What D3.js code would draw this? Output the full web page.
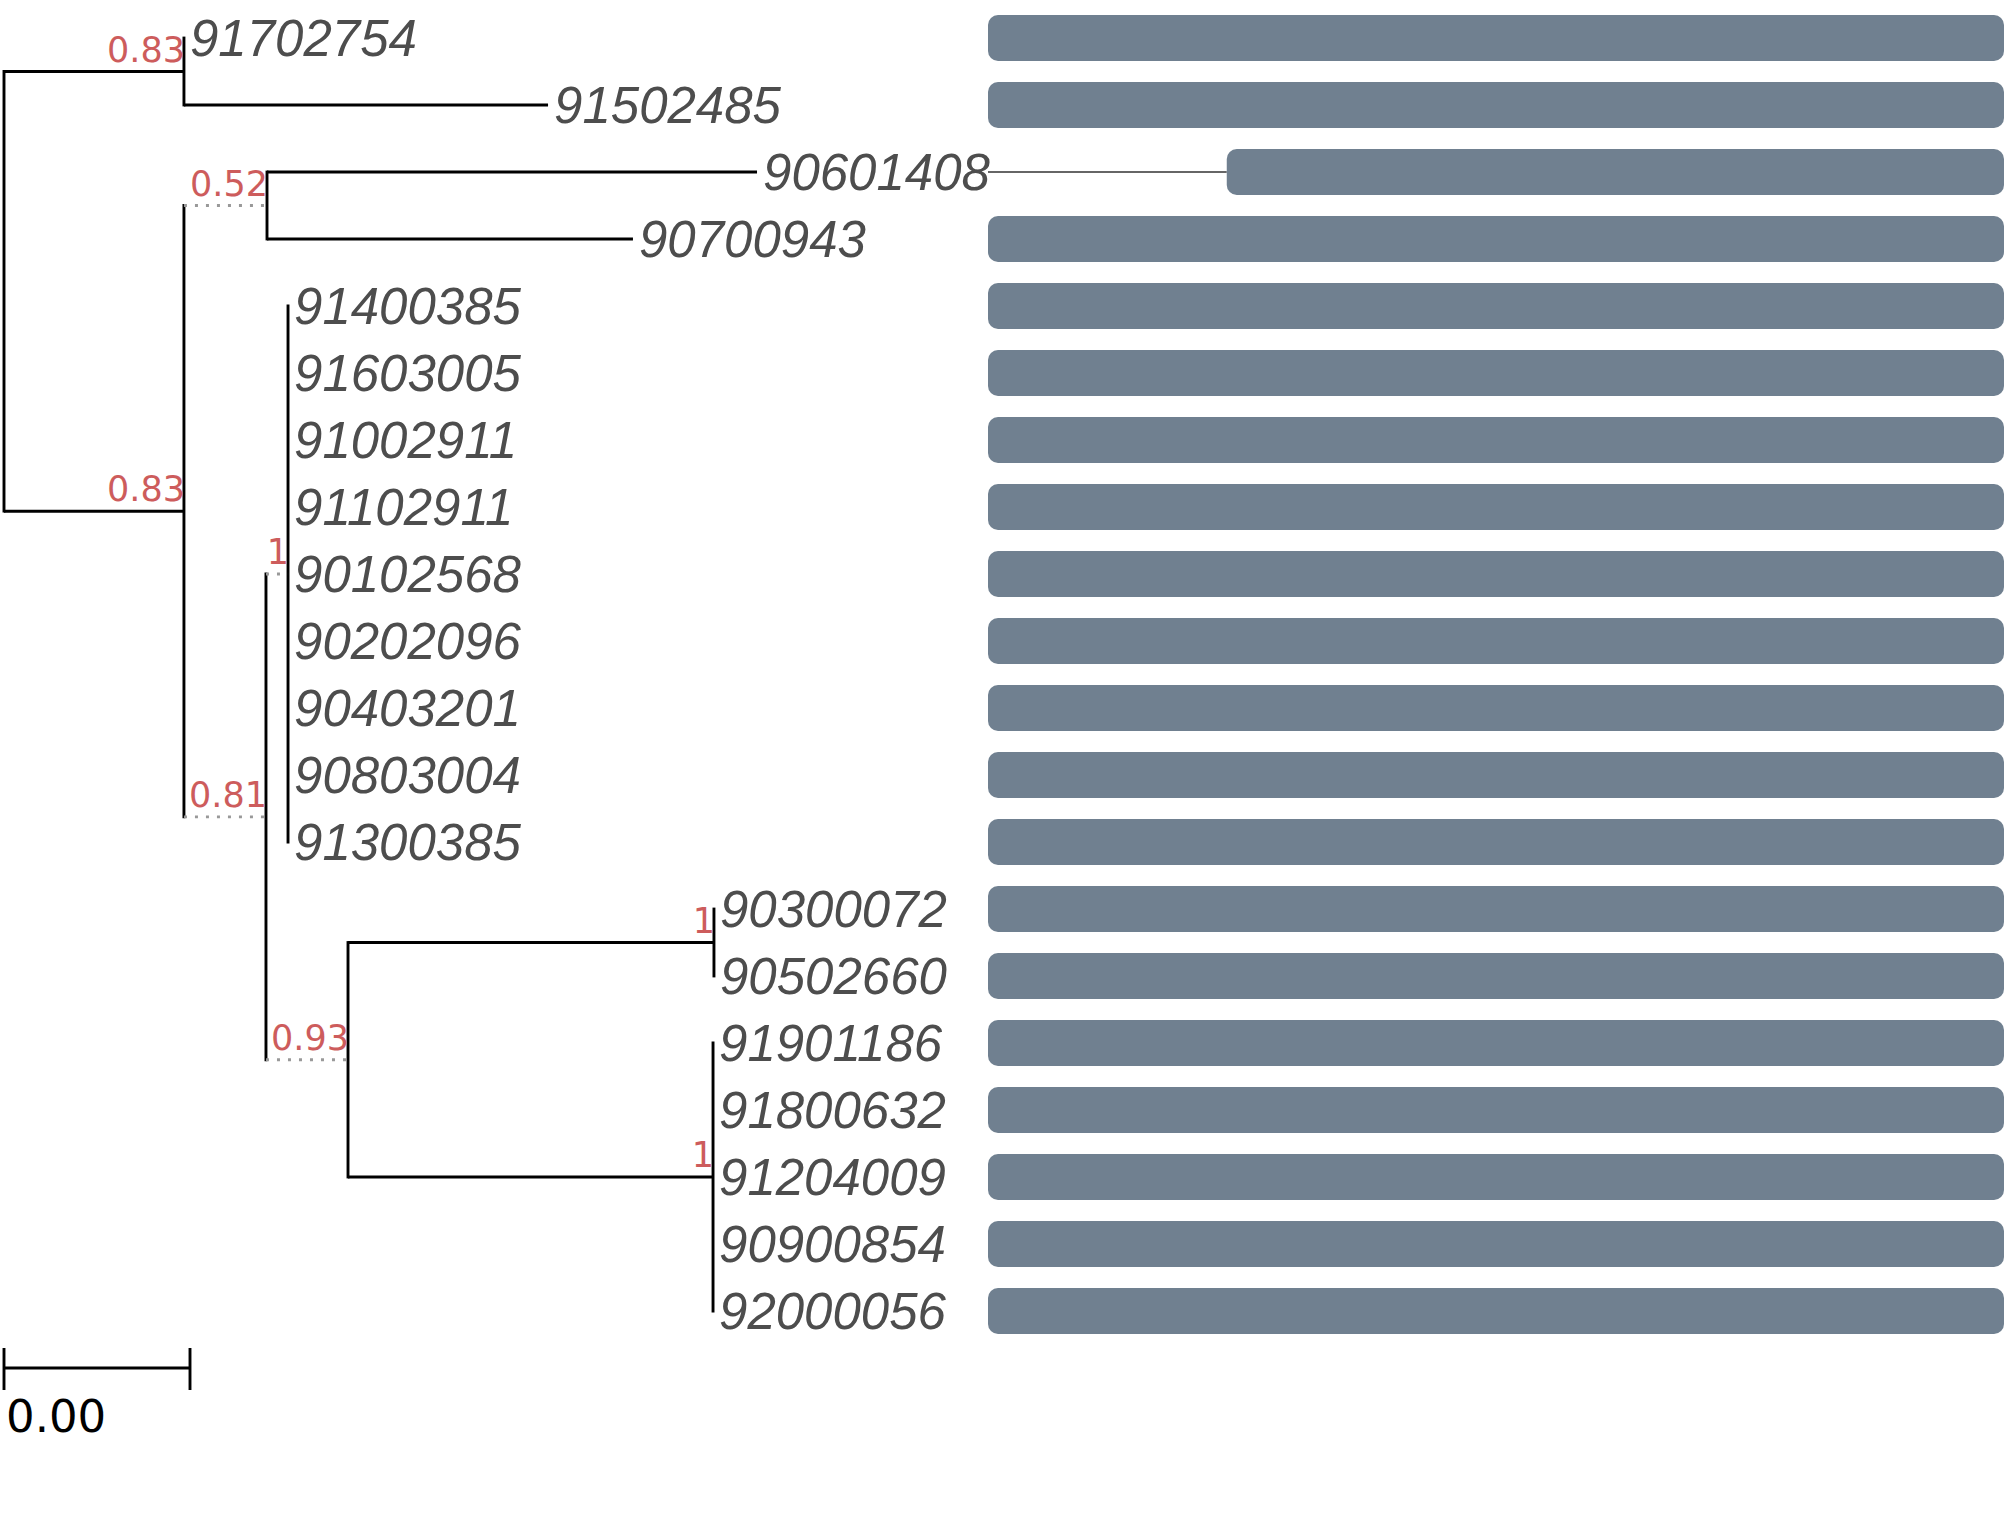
<!DOCTYPE html>
<html>
<head>
<meta charset="utf-8">
<script src="https://cdn.jsdelivr.net/npm/d3@7"></script>
<style>
  html, body { margin: 0; padding: 0; background: #fff; }
  svg { display: block; }
</style>
</head>
<body>
<script>
// tips, top to bottom
const tipLabels = ["91702754", "91502485", "90601408", "90700943", "91400385", "91603005",
  "91002911", "91102911", "90102568", "90202096", "90403201", "90803004", "91300385",
  "90300072", "90502660", "91901186", "91800632", "91204009", "90900854", "92000056"];

// tree as a parent table
const nodeIds = ["root", "A", "91702754", "91502485", "B", "C", "90601408", "90700943",
  "D", "E", "91400385", "91603005", "91002911", "91102911", "90102568", "90202096",
  "90403201", "90803004", "91300385", "F", "G", "90300072", "90502660", "H",
  "91901186", "91800632", "91204009", "90900854", "92000056"];
const parentIds = [null, "root", "A", "A", "root", "B", "C", "C",
  "B", "D", "E", "E", "E", "E", "E", "E",
  "E", "E", "E", "D", "F", "G", "G", "F",
  "H", "H", "H", "H", "H"];
const branchLen = [0, 0.001935, 0, 0.003915, 0.001935, 0.000893, 0.005269, 0.003935,
  0.000882, 0.000237, 0, 0, 0, 0, 0, 0,
  0, 0, 0, 0.000882, 0.003935, 0, 0, 0.003925,
  0, 0, 0, 0, 0];
const support = {A: "0.83", B: "0.83", C: "0.52", D: "0.81", E: "1", F: "0.93", G: "1", H: "1"};
const dottedEdges = ["C", "D", "E", "F"];

// bar panel (start, end per tip)
const barStart = [0, 0, 23.5, 0, 0, 0, 0, 0, 0, 0, 0, 0, 0, 0, 0, 0, 0, 0, 0, 0];
const barEnd = [100, 100, 100, 100, 100, 100, 100, 100, 100, 100, 100, 100, 100, 100, 100, 100, 100, 100, 100, 100];

const treeScaleWidth = 0.002;

const W = 2007, H = 1537;
const svg = d3.select("body").append("svg")
  .attr("width", W)
  .attr("height", H);

const rows = nodeIds.map((id, i) => ({id, parent: parentIds[i], len: branchLen[i]}));
const root = d3.stratify().id(d => d.id).parentId(d => d.parent)(rows);

const x = d3.scaleLinear().domain([0, treeScaleWidth]).range([4, 190]);
const y = d3.scalePoint().domain(tipLabels).range([38, 1311]);
const barX = d3.scaleLinear().domain([0, 100]).range([988, 2004]);

root.eachBefore(n => n.dist = n.parent ? n.parent.dist + n.data.len : 0);
root.eachAfter(n => n.yPos = n.children ? d3.mean(n.children, c => c.yPos) : y(n.id));

const tree = svg.append("g");

// vertical connectors
tree.selectAll("line.v")
  .data(root.descendants().filter(n => n.children))
  .join("line")
  .attr("class", "v")
  .attr("x1", n => x(n.dist))
  .attr("x2", n => x(n.dist))
  .attr("y1", n => d3.min(n.children, c => c.yPos) - 1.4)
  .attr("y2", n => d3.max(n.children, c => c.yPos) + 1.4)
  .attr("stroke", "#000")
  .attr("stroke-width", 2.9);

// horizontal branches
tree.selectAll("line.h")
  .data(root.descendants().filter(n => n.parent && n.data.len > 0))
  .join("line")
  .attr("class", "h")
  .attr("x1", n => x(n.parent.dist))
  .attr("x2", n => x(n.dist))
  .attr("y1", n => n.yPos)
  .attr("y2", n => n.yPos)
  .attr("stroke", n => dottedEdges.includes(n.id) ? "#999" : "#000")
  .attr("stroke-width", n => dottedEdges.includes(n.id) ? 2.8 : 2.9)
  .attr("stroke-dasharray", n => dottedEdges.includes(n.id) ? "3 8" : null);

// support values
tree.selectAll("text.support")
  .data(root.descendants().filter(n => support[n.id]))
  .join("text")
  .attr("class", "support")
  .attr("x", n => x(n.dist) + 1)
  .attr("y", n => n.yPos - 10)
  .attr("text-anchor", "end")
  .style("font-family", "DejaVu Sans")
  .style("font-size", "35px")
  .style("fill", "#cd5c5c")
  .text(n => support[n.id]);

// tip labels
tree.selectAll("text.tip")
  .data(root.leaves())
  .join("text")
  .attr("class", "tip")
  .attr("x", n => x(n.dist) + 6)
  .attr("y", n => n.yPos)
  .attr("dy", "0.35em")
  .style("font-family", "Liberation Sans, Arial, sans-serif")
  .style("font-style", "italic")
  .style("font-size", "51px")
  .style("fill", "#4d4d4d")
  .text(n => n.id);

// bar panel
const bars = svg.append("g");
const barData = tipLabels.map((t, i) => ({tip: t, start: barStart[i], end: barEnd[i]}));

bars.selectAll("line.lead")
  .data(barData.filter(d => d.start > 0))
  .join("line")
  .attr("class", "lead")
  .attr("x1", barX(0))
  .attr("x2", d => barX(d.start))
  .attr("y1", d => y(d.tip))
  .attr("y2", d => y(d.tip))
  .attr("stroke", "#333")
  .attr("stroke-width", 1.3);

bars.selectAll("rect")
  .data(barData)
  .join("rect")
  .attr("x", d => barX(d.start))
  .attr("width", d => barX(d.end) - barX(d.start))
  .attr("y", d => y(d.tip) - 23)
  .attr("height", 46)
  .attr("rx", 10)
  .attr("ry", 10)
  .attr("fill", "#708090");

// tree scale
const ts = svg.append("g");
const tsY = 1368;
ts.append("line")
  .attr("x1", x(0)).attr("x2", x(treeScaleWidth))
  .attr("y1", tsY).attr("y2", tsY)
  .attr("stroke", "#000").attr("stroke-width", 2.9);
ts.selectAll("line.tick")
  .data([0, treeScaleWidth])
  .join("line")
  .attr("class", "tick")
  .attr("x1", d => x(d)).attr("x2", d => x(d))
  .attr("y1", tsY - 20).attr("y2", tsY + 22)
  .attr("stroke", "#000").attr("stroke-width", 2.9);
ts.append("text")
  .attr("x", x(0) + 2)
  .attr("y", 1432)
  .style("font-family", "DejaVu Sans")
  .style("font-size", "45px")
  .style("fill", "#000")
  .text(d3.format(".2f")(treeScaleWidth));
</script>
</body>
</html>
